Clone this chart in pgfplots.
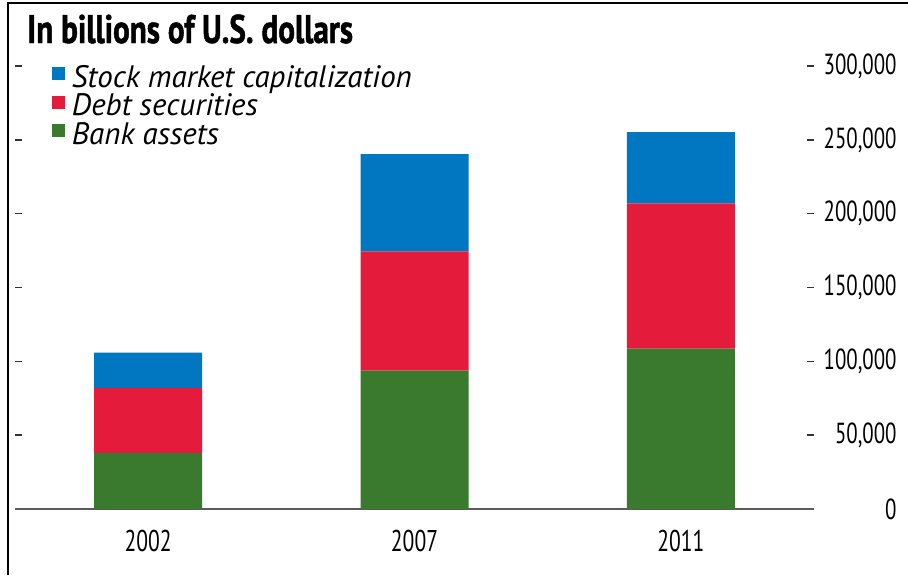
\documentclass[border=0pt]{standalone}
\usepackage{fontspec}
\usepackage{pgfplots}
\pgfplotsset{compat=1.18}
\setmainfont{PT Sans}
\newfontfamily\condfont{PT Sans}[FakeStretch=0.72]
\newfontfamily\titlefont{PT Sans}[FakeStretch=0.78, FakeBold=1.2]
\definecolor{stockblue}{HTML}{0077C0}
\definecolor{debtred}{HTML}{E41B3A}
\definecolor{bankgreen}{HTML}{3A7A2E}
\definecolor{axisgray}{HTML}{5A5A5A}
\begin{document}
\begin{tikzpicture}
\path[use as bounding box] (0,0) rectangle (454pt,287.5pt);
% frame: top and left edges only
\draw[line width=1pt] (4pt,0) -- (4pt,286pt) -- (454pt,286pt);
\node[anchor=base west, inner sep=0, font=\titlefont\bfseries\fontsize{20}{20}\selectfont]
  at (13.5pt,266pt) {In billions of U.S. dollars};
\begin{axis}[
    at={(7.5pt,33pt)}, anchor=south west,
    scale only axis,
    width=399.5pt, height=221.5pt,
    ybar stacked, bar width=54pt,
    xmin=-0.5, xmax=2.5,
    ymin=0, ymax=300000,
    clip=false,
    axis x line*=bottom,
    y axis line style={draw=none},
    x axis line style={draw=axisgray, line width=1pt},
    xtick={0,1,2},
    xticklabels={2002,2007,2011},
    extra x ticks={-0.5,0.5,1.5,2.5},
    extra x tick labels={},
    extra x tick style={major tick length=3.5pt, tick style={draw=black!80, line width=0.8pt}},
    major x tick style={draw=none},
    xticklabel style={font=\condfont\fontsize{15}{15}\selectfont, inner sep=0pt, anchor=north, yshift=-10.5pt},
    ytick={0,50000,100000,150000,200000,250000,300000},
    ytick pos=both,
    yticklabel pos=right,
    tick align=inside,
    major tick length=3.5pt,
    y tick style={draw=black!80, line width=0.75pt},
    scaled y ticks=false,
    yticklabel style={font=\condfont\fontsize{14.5}{14.5}\selectfont, inner sep=0pt, anchor=east, xshift=41.5pt,
      /pgf/number format/.cd, fixed, precision=0, 1000 sep={,}, assume math mode=true},
    legend style={at={(0.0463,0.999)}, anchor=north west, draw=none, fill=none,
      inner sep=0pt, outer sep=0pt,
      font=\itshape\fontsize{15.5}{15.5}\selectfont,
      nodes={inner sep=0pt, text height=10.5pt, text depth=2.5pt},
      row sep=1.25pt, column sep=3.5pt},
    legend cell align=left,
    reverse legend,
    legend image code/.code={\fill[#1, draw=none] (0pt,-0.5pt) rectangle (6.5pt,6pt);},
]
\addplot[fill=bankgreen, draw=none] coordinates {(0,38000) (1,93700) (2,108600)};
\addplot[fill=debtred, draw=none] coordinates {(0,44100) (1,80700) (2,98400)};
\addplot[fill=stockblue, draw=none] coordinates {(0,23800) (1,65900) (2,48200)};
\legend{Bank assets, Debt securities, Stock market capitalization}
\end{axis}
\end{tikzpicture}
\end{document}
